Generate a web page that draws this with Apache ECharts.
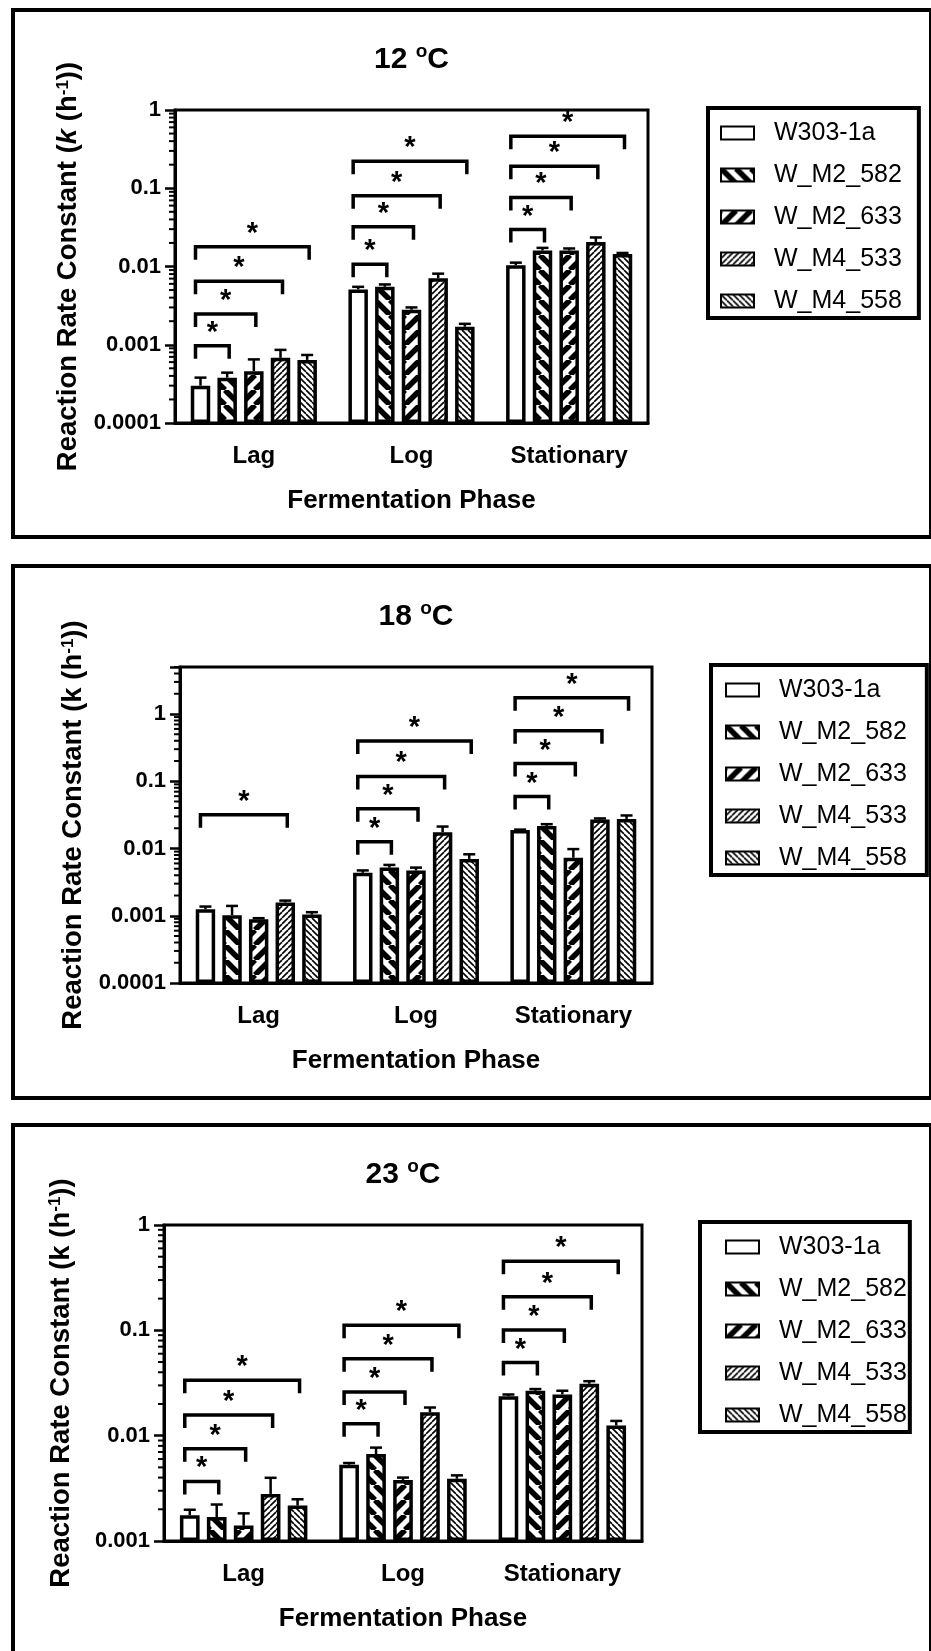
<!DOCTYPE html>
<html>
<head>
<meta charset="utf-8">
<script src="https://cdn.jsdelivr.net/npm/echarts@6/dist/echarts.min.js"></script>
<style>
  html, body { margin: 0; padding: 0; background: #fff; }
  #chart { width: 931px; height: 1651px; }
</style>
</head>
<body>
<div id="chart"></div>
<script>
const FONT = '"Liberation Sans", Arial, Helvetica, sans-serif';

const phases = ['Lag', 'Log', 'Stationary'];
const strains = ['W303-1a', 'W_M2_582', 'W_M2_633', 'W_M4_533', 'W_M4_558'];

// Decade tick labels of the log axes
const decadeLabels = ['0.0001', '0.001', '0.01', '0.1', '1'];

// 12 °C: mean rate constant k (h^-1) per strain, phases in order Lag, Log, Stationary
const rate12 = [
  [0.00030, 0.0051, 0.0104],
  [0.00038, 0.0055, 0.0160],
  [0.00046, 0.0028, 0.0160],
  [0.00068, 0.0071, 0.0206],
  [0.00064, 0.0017, 0.0144]
];
// 12 °C: upper error bar length
const err12 = [
  [0.00008, 0.0004, 0.0008],
  [0.00006, 0.0004, 0.0013],
  [0.00019, 0.0002, 0.0010],
  [0.00018, 0.0010, 0.0029],
  [0.00010, 0.00015, 0.0005]
];
// 12 °C: significance brackets [phase, strain compared with W303-1a, bracket height]
const sig12 = [
  [0, 1, 0.00097], [0, 2, 0.00248], [0, 3, 0.0065], [0, 4, 0.0179],
  [1, 1, 0.0107], [1, 2, 0.0322], [1, 3, 0.0804], [1, 4, 0.222],
  [2, 1, 0.0296], [2, 2, 0.0764], [2, 3, 0.1905], [2, 4, 0.461]
];

// 18 °C
const rate18 = [
  [0.00125, 0.00435, 0.0188],
  [0.00102, 0.0052, 0.0217],
  [0.00089, 0.0047, 0.0073],
  [0.00158, 0.0175, 0.0269],
  [0.00104, 0.0070, 0.0275]
];
const err18 = [
  [0.00012, 0.00037, 0.0003],
  [0.00038, 0.0005, 0.0013],
  [0.00003, 0.0005, 0.0025],
  [0.0001, 0.0037, 0.0011],
  [0.00009, 0.0012, 0.0035]
];
const sig18 = [
  [0, 3, 0.0318],
  [1, 1, 0.0126], [1, 2, 0.039], [1, 3, 0.1178], [1, 4, 0.396],
  [2, 1, 0.0591], [2, 2, 0.183], [2, 3, 0.565], [2, 4, 1.75]
];

// 23 °C
const rate23 = [
  [0.00176, 0.0053, 0.0237],
  [0.00169, 0.0067, 0.0267],
  [0.00140, 0.0038, 0.0246],
  [0.0028, 0.0167, 0.0311],
  [0.00217, 0.0039, 0.0125]
];
const err23 = [
  [0.00022, 0.0002, 0.0009],
  [0.00053, 0.0010, 0.0010],
  [0.00043, 0.0002, 0.0021],
  [0.00118, 0.0018, 0.0018],
  [0.00032, 0.0003, 0.0013]
];
const sig23 = [
  [0, 1, 0.00368], [0, 2, 0.00751], [0, 3, 0.0157], [0, 4, 0.0336],
  [1, 1, 0.01295], [1, 2, 0.026], [1, 3, 0.0536], [1, 4, 0.112],
  [2, 1, 0.0495], [2, 2, 0.101], [2, 3, 0.208], [2, 4, 0.452]
];

// Hatch tiles used as bar fills
function hatch(size, width, dir) {
  const c = document.createElement('canvas');
  c.width = size; c.height = size;
  const g = c.getContext('2d');
  g.fillStyle = '#fff';
  g.fillRect(0, 0, size, size);
  g.strokeStyle = '#000';
  g.lineWidth = width;
  for (let k = -1; k <= 1; k++) {
    g.beginPath();
    if (dir === 'back') { g.moveTo(k * size, 0); g.lineTo(k * size + size, size); }
    else { g.moveTo(k * size, size); g.lineTo(k * size + size, 0); }
    g.stroke();
  }
  return { image: c, repeat: 'repeat' };
}
const fills = [
  '#ffffff',
  hatch(15, 5.5, 'back'),
  hatch(15, 5.5, 'fwd'),
  hatch(6, 1.6, 'fwd'),
  hatch(6, 1.6, 'back')
];

// Bar layout inside each category band
const CAT_GAP = 0.2;
const BAR_GAP = 0.37;

const panels = [
  { temp: '12', rate: rate12, err: err12, sig: sig12, yMin: 0.0001, yMax: 1, italicK: true,
    grid: { left: 175, top: 110, width: 473, height: 313 },
    frame: { y: 10, h: 527 }, titleY: 60,
    legend: { left: 708, top: 108, padding: [10, 17, 2, 12] } },
  { temp: '18', rate: rate18, err: err18, sig: sig18, yMin: 0.0001, yMax: 5, italicK: false,
    grid: { left: 180, top: 667, width: 472, height: 316 },
    frame: { y: 566, h: 532 }, titleY: 617,
    legend: { left: 711, top: 665, padding: [10, 20, 2, 14] } },
  { temp: '23', rate: rate23, err: err23, sig: sig23, yMin: 0.001, yMax: 1, italicK: false,
    grid: { left: 164, top: 1225, width: 478, height: 316 },
    frame: { y: 1125, h: 545 }, titleY: 1175,
    legend: { left: 700, top: 1222, padding: [10, 3, 2, 25] } }
];

// Horizontal centre of bar s inside the band of a category
function barCenter(api, cat, s) {
  const band = api.size([1, 0])[0];
  const w = band * (1 - CAT_GAP) / (5 + 4 * BAR_GAP);
  return api.coord([cat, 1])[0] - band * (1 - CAT_GAP) / 2 + w * (0.5 + (1 + BAR_GAP) * s);
}

function renderErrorBar(params, api) {
  const cat = api.value(0), s = api.value(1), mean = api.value(2), e = api.value(3);
  const x = barCenter(api, cat, s);
  const y0 = api.coord([cat, mean])[1];
  const y1 = api.coord([cat, mean + e])[1];
  const st = { stroke: '#000', lineWidth: 2.5 };
  return { type: 'group', children: [
    { type: 'line', shape: { x1: x, y1: y0, x2: x, y2: y1 }, style: st },
    { type: 'line', shape: { x1: x - 6, y1: y1, x2: x + 6, y2: y1 }, style: st }
  ] };
}

function renderBracket(params, api) {
  const cat = api.value(0), s = api.value(1), level = api.value(2);
  const x1 = barCenter(api, cat, 0) - 5;
  const x2 = barCenter(api, cat, s) + 2;
  const y = api.coord([cat, level])[1];
  return { type: 'group', children: [
    { type: 'polyline', shape: { points: [[x1, y + 13], [x1, y], [x2, y], [x2, y + 13]] },
      style: { stroke: '#000', lineWidth: 3.5, fill: null } },
    { type: 'text', x: (x1 + x2) / 2, y: y - 13,
      style: { text: '*', font: 'bold 29px ' + FONT, fill: '#000', align: 'center', verticalAlign: 'middle' } }
  ] };
}

function renderMinorTick(params, api) {
  const y = api.coord([0, api.value(1)])[1];
  const x = params.coordSys.x;
  return { type: 'line', shape: { x1: x - 6, y1: y, x2: x, y2: y }, style: { stroke: '#000', lineWidth: 2 } };
}

// Minor ticks at 2..9 x 10^n inside the axis range
function minorTicks(min, max) {
  const out = [];
  for (let e = Math.round(Math.log10(min)); Math.pow(10, e) < max; e++) {
    for (let m = 2; m <= 9; m++) {
      const v = m * Math.pow(10, e);
      if (v <= max * 1.0001) out.push([0, v]);
    }
  }
  return out;
}

function decadeLabel(v) {
  const e = Math.log10(v);
  if (Math.abs(e - Math.round(e)) > 1e-6) return '';
  return decadeLabels[Math.round(e) + 4] || '';
}

const grids = [], xAxes = [], yAxes = [], series = [], legends = [], graphics = [];

panels.forEach((p, pi) => {
  grids.push(Object.assign({ show: true, borderColor: '#000', borderWidth: 3, backgroundColor: 'transparent' }, p.grid));

  xAxes.push({
    type: 'category', gridIndex: pi, data: phases,
    name: 'Fermentation Phase', nameLocation: 'middle', nameGap: 65,
    nameTextStyle: { fontFamily: FONT, fontSize: 26, fontWeight: 'bold', color: '#000' },
    axisLine: { lineStyle: { color: '#000', width: 3 } },
    axisTick: { alignWithLabel: true, length: 13, lineStyle: { color: '#000', width: 3 } },
    axisLabel: { margin: 21, fontFamily: FONT, fontSize: 24, fontWeight: 'bold', color: '#000' },
    splitLine: { show: false }
  });

  const kStyle = p.italicK ? 'italic' : 'normal';
  yAxes.push({
    type: 'log', logBase: 10, gridIndex: pi, min: p.yMin, max: p.yMax, startValue: p.yMin,
    name: 'Reaction Rate Constant ({k|k} (h{s|-1}))', nameLocation: 'middle', nameGap: 89,
    nameTextStyle: {
      fontFamily: FONT, fontSize: 27.5, fontWeight: 'bold', color: '#000',
      rich: {
        k: { fontFamily: FONT, fontSize: 27.5, fontWeight: 'bold', fontStyle: kStyle, color: '#000' },
        s: { fontFamily: FONT, fontSize: 17, fontWeight: 'bold', color: '#000', verticalAlign: 'top' }
      }
    },
    axisLine: { show: true, lineStyle: { color: '#000', width: 3 } },
    axisTick: { show: true, length: 10, lineStyle: { color: '#000', width: 2.5 } },
    axisLabel: { margin: 14, fontFamily: FONT, fontSize: 22, fontWeight: 'bold', color: '#000', formatter: decadeLabel },
    splitLine: { show: false }
  });

  strains.forEach((name, si) => {
    series.push({
      type: 'bar', name, xAxisIndex: pi, yAxisIndex: pi, data: p.rate[si],
      barCategoryGap: (CAT_GAP * 100) + '%', barGap: (BAR_GAP * 100) + '%', silent: true,
      itemStyle: { color: fills[si], borderColor: '#000', borderWidth: 3.5 }
    });
  });

  const errData = [];
  p.rate.forEach((row, si) => row.forEach((v, ci) => errData.push([ci, si, v, p.err[si][ci]])));
  series.push({ type: 'custom', xAxisIndex: pi, yAxisIndex: pi, data: errData,
    encode: { x: 0, y: 2 }, renderItem: renderErrorBar, silent: true, z: 3 });

  series.push({ type: 'custom', xAxisIndex: pi, yAxisIndex: pi, data: p.sig,
    encode: { x: 0, y: 2 }, renderItem: renderBracket, silent: true, z: 3 });

  series.push({ type: 'custom', xAxisIndex: pi, yAxisIndex: pi, data: minorTicks(p.yMin, p.yMax),
    encode: { x: 0, y: 1 }, renderItem: renderMinorTick, silent: true, z: 3 });

  legends.push({
    data: strains, orient: 'vertical', left: p.legend.left, top: p.legend.top,
    padding: p.legend.padding, itemWidth: 33, itemHeight: 13, itemGap: 12,
    borderColor: '#000', borderWidth: 4, selectedMode: false, icon: 'rect',
    textStyle: { fontFamily: FONT, fontSize: 25, color: '#000', lineHeight: 30, padding: [0, 0, 0, 15] }
  });

  // panel frame
  graphics.push({ type: 'rect', silent: true, z: -10,
    shape: { x: 13, y: p.frame.y, width: 918, height: p.frame.h },
    style: { fill: 'transparent', stroke: '#000', lineWidth: 4 } });

  // panel title with superscript degree sign
  graphics.push({ type: 'text', silent: true,
    x: p.grid.left + p.grid.width / 2, y: p.titleY,
    style: {
      text: '{n|' + p.temp + ' }{s|o}{n|C}', align: 'center', verticalAlign: 'middle',
      rich: {
        n: { fontFamily: FONT, fontSize: 30, fontWeight: 'bold', fill: '#000', lineHeight: 35 },
        s: { fontFamily: FONT, fontSize: 19, fontWeight: 'bold', fill: '#000', verticalAlign: 'top' }
      }
    } });
});

const chart = echarts.init(document.getElementById('chart'), null, { renderer: 'canvas' });
chart.setOption({
  animation: false,
  backgroundColor: '#fff',
  grid: grids,
  xAxis: xAxes,
  yAxis: yAxes,
  legend: legends,
  series: series,
  graphic: graphics
});
</script>
</body>
</html>
